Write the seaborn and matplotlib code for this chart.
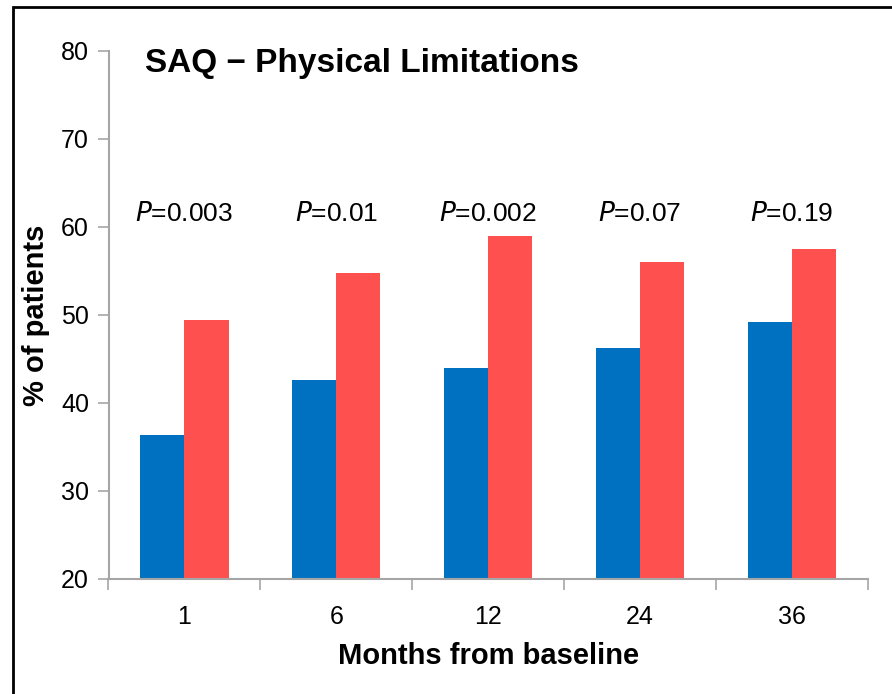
import pandas as pd
import seaborn as sns
import matplotlib.pyplot as plt
from matplotlib.patches import Rectangle

# valores
months = ['1', '6', '12', '24', '36']
grupo_a = [36.4, 42.6, 44.0, 46.3, 49.2]
grupo_b = [49.4, 54.8, 59.0, 56.0, 57.5]
p_labels = ['0.003', '0.01', '0.002', '0.07', '0.19']

sns.set_style('white')
plt.rcParams['font.family'] = ['Liberation Sans', 'DejaVu Sans']
plt.rcParams['text.color'] = 'black'
plt.rcParams['axes.labelcolor'] = 'black'
plt.rcParams['xtick.color'] = 'black'
plt.rcParams['ytick.color'] = 'black'

df = pd.DataFrame({
    'month': months * 2,
    'pct': grupo_a + grupo_b,
    'grupo': ['A'] * 5 + ['B'] * 5,
})

fig = plt.figure(figsize=(8.92, 6.94), dpi=100)
ax = fig.add_axes([108.5 / 892, 1 - 579 / 694, 759.5 / 892, 528 / 694])

sns.barplot(data=df, x='month', y='pct', hue='grupo', order=months,
            palette=['#0070C0', '#FF5050'], width=0.58, gap=0,
            saturation=1, legend=False, linewidth=0, ax=ax)

ax.set_ylim(20, 80)
ax.set_xlim(-0.5, 4.5)
ax.set_yticks(range(20, 81, 10))

# ticks entre as categorias, estilo excel
ax.set_xticks([i - 0.5 for i in range(6)], minor=True)
ax.tick_params(axis='x', which='major', bottom=True, length=0, labelsize=18, pad=19)
ax.tick_params(axis='x', which='minor', bottom=True, length=8, width=1.2, color='#A6A6A6', direction='out')
ax.tick_params(axis='y', left=True, length=8, width=1.2, color='#A6A6A6', labelcolor='black',
               direction='out', labelsize=18, pad=6)

for s in ['top', 'right']:
    ax.spines[s].set_visible(False)
for s in ['left', 'bottom']:
    ax.spines[s].set_color('#A6A6A6')
    ax.spines[s].set_linewidth(1.5)

ax.set_xlabel('Months from baseline', fontsize=21, fontweight='bold', labelpad=9)
ax.set_ylabel('% of patients', fontsize=21, fontweight='bold', labelpad=8)

for i, p in enumerate(p_labels):
    ax.text(i, 61.5, r'$\it{P}$=' + p, ha='center', va='center', fontsize=19)

ax.text(0.048, 0.977, 'SAQ \u2212 Physical Limitations', transform=ax.transAxes,
        fontsize=24, fontweight='bold', va='center', ha='left')

# moldura externa
fig.patches.append(Rectangle((13 / 892, -0.1), 1.2, 1 - 7 / 694 + 0.1, transform=fig.transFigure,
                             fill=False, edgecolor='black', linewidth=2))

fig.savefig('out.png', dpi=100)
